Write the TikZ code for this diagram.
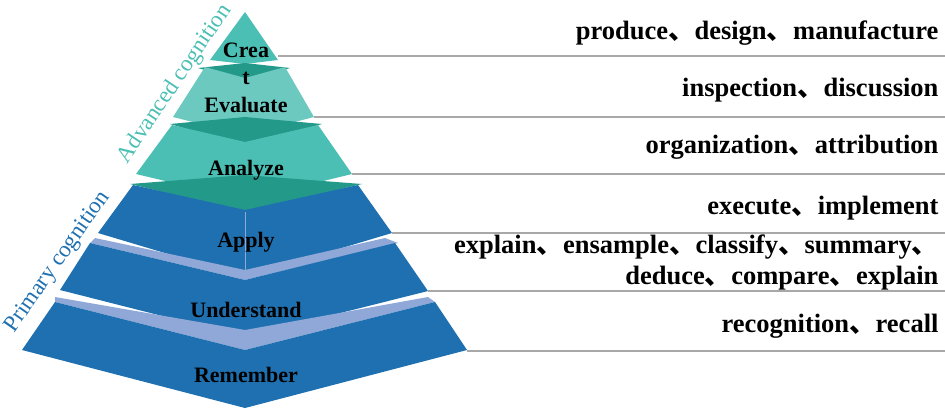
\documentclass[tikz,border=0pt]{standalone}
\usepackage{fontspec}
\setmainfont{Liberation Serif}
\newfontfamily\cjk{Noto Sans CJK SC}
\newcommand{\dn}{{\cjk 、}}
\definecolor{teal1}{HTML}{4BBFB4}
\definecolor{teal2}{HTML}{23998A}
\definecolor{teal3}{HTML}{6CC9C0}
\definecolor{blue1}{HTML}{1F70B0}
\definecolor{band}{HTML}{8FA8D8}
\definecolor{gline}{HTML}{A8A8A8}
\begin{document}
\begin{tikzpicture}[x=1pt,y=-1pt,
  lbl/.style={font=\bfseries\fontsize{22}{23}\selectfont,text=black},
  rt/.style={font=\bfseries\fontsize{26.5}{31}\selectfont,anchor=east,align=right},
  gl/.style={draw=gline,line width=1.2pt}]
\useasboundingbox (0,0) rectangle (945,408);
% Create
\fill[teal1] (245,12) -- (278,60) -- (245,64) -- (210,60) -- cycle;
% Evaluate top face and body
\fill[teal2] (198,68) -- (245,63) -- (290,68) -- (245,82) -- cycle;
\fill[teal3] (205,67) -- (245,78) -- (285,67) -- (314,117) -- (245,135) -- (173,117) -- cycle;
% Analyze
\fill[teal2] (170,124) -- (245,117) -- (322,124) -- (245,146) -- cycle;
\fill[teal1] (172,125) -- (245,142) -- (318,125) -- (352,174) -- (245,200) -- (136,174) -- cycle;
% Apply
\fill[teal2] (130,184) -- (245,175) -- (362,184) -- (245,212) -- cycle;
\fill[blue1] (133,185) -- (245,210) -- (358,185) -- (392,233) -- (245,277) -- (98,233) -- cycle;
\draw[band,line width=0.6pt] (245,212) -- (245,270);
% Understand
\fill[band] (95,238) -- (245,270) -- (385,238) -- (398,243) -- (245,280) -- (90,243) -- cycle;
\fill[blue1] (90,243) -- (245,280) -- (395,243) -- (428,291) -- (245,337) -- (60,290) -- cycle;
% Remember
\fill[band] (55,297) -- (245,330) -- (428,297) -- (435,302) -- (245,350) -- (55,302) -- cycle;
\fill[blue1] (55,302) -- (245,350) -- (435,302) -- (467,350) -- (245,408) -- (22,350) -- cycle;
% labels
\node[lbl] (c1) at (246,50) {Crea};
\node[lbl] (c2) at (246,78) {t};
\node[lbl] (ev) at (246,105) {Evaluate};
\node[lbl] (an) at (246,170) {Analyze};
\node[lbl] (ap) at (246,242) {Apply};
\node[lbl] (un) at (246,310) {Understand};
\node[lbl] (re) at (246,375) {Remember};
% side labels
\node[font=\fontsize{23}{25}\selectfont,text=teal1,rotate=56] (adv) at (175,84) {Advanced cognition};
\node[font=\fontsize{23}{25}\selectfont,text=blue1,rotate=55] (pri) at (58,262) {Primary cognition};
% lines
\coordinate (l1) at (278,56); \coordinate (r1) at (945,56);
\coordinate (l2) at (314,117); \coordinate (r2) at (945,117);
\coordinate (l3) at (352,174); \coordinate (r3) at (945,174);
\coordinate (l4) at (392,233); \coordinate (r4) at (945,233);
\coordinate (l5) at (428,291); \coordinate (r5) at (945,291);
\coordinate (l6) at (467,351); \coordinate (r6) at (945,351);
\foreach \i in {1,...,6} \draw[gl] (l\i) -- (r\i);
% right texts
\node[rt] (t1) at (942,33) {produce\dn design\dn manufacture};
\node[rt] (t2) at (942,90) {inspection\dn discussion};
\node[rt] (t3) at (942,147) {organization\dn attribution};
\node[rt] (t4) at (942,208) {execute\dn implement};
\node[rt] (t5) at (942,262) {explain\dn ensample\dn classify\dn summary\dn\\deduce\dn compare\dn explain};
\node[rt] (t6) at (942,326) {recognition\dn recall};
\end{tikzpicture}
\end{document}
